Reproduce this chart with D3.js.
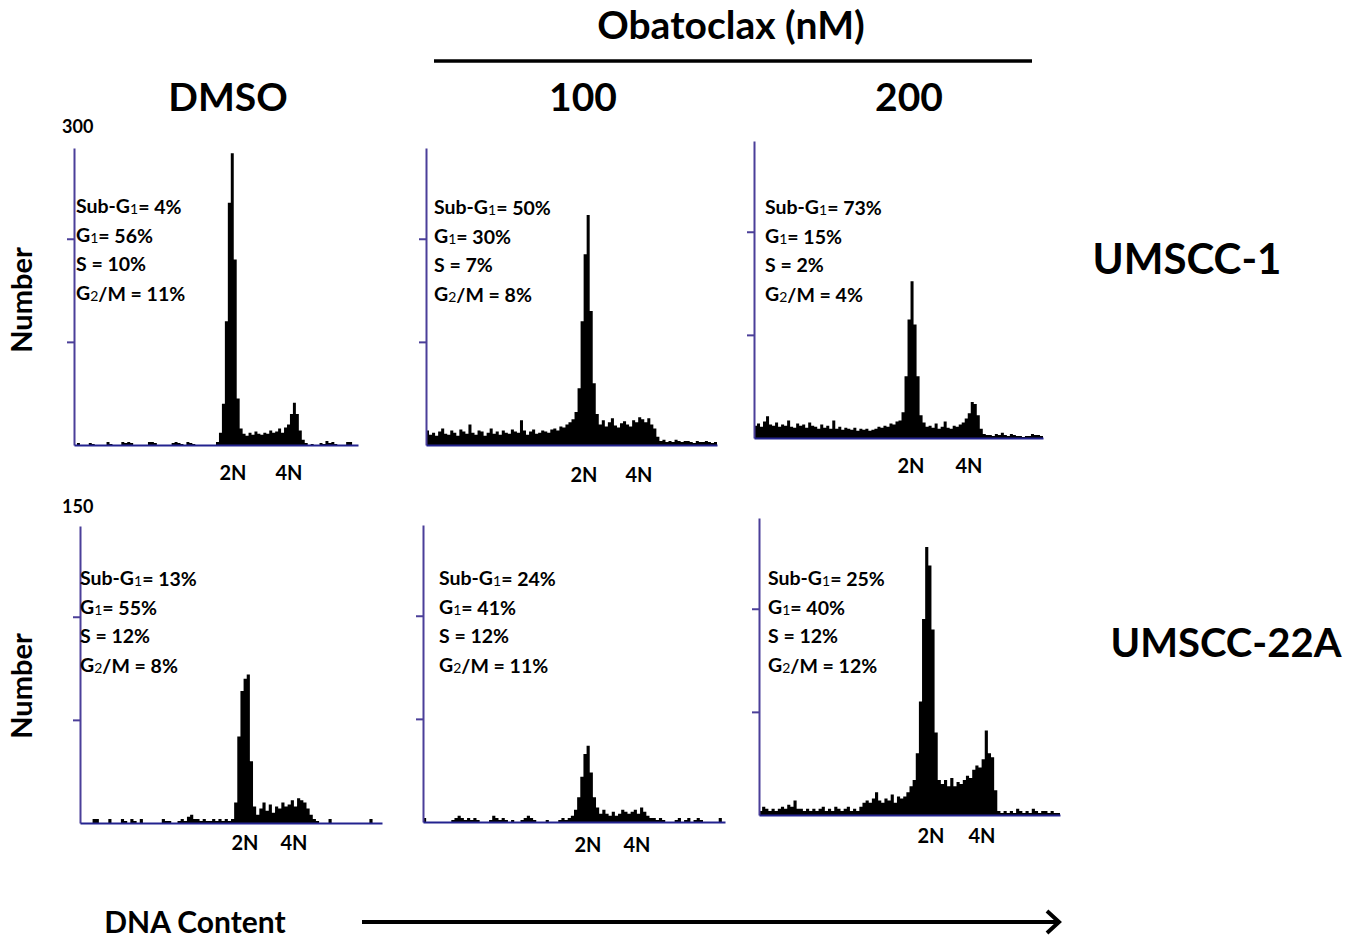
<!DOCTYPE html>
<html>
<head>
<meta charset="utf-8">
<script src="https://cdn.jsdelivr.net/npm/d3@7"></script>
<style>
  body { margin: 0; background: #fff; }
  text { font-family: Lato, "Open Sans", sans-serif; font-weight: bold; fill: #000; }
</style>
</head>
<body>
<script>
// ---- data ----
var conditions = ["DMSO", "100", "200"];
var cellLines = ["UMSCC-1", "UMSCC-22A"];
var rowMaxLabels = ["300", "150"];
var rowTicks = [[100, 200], [50, 100]];
var rowMax = [288, 144];

// DNA histograms, 96 channels each (counts per channel)
var umscc1Dmso = [0,2,0,0,0,2,1,0,0,0, 0,3,1,0,0,0,3,2,3,2, 0,0,0,0,0,3,3,2,0,0,
  0,0,0,2,3,2,1,0,3,2, 1,0,0,0,0,0,0,0,3,12, 40,120,235,283,180,45,16,11,9,12,
  10,13,11,10,12,11,14,12,13,16, 12,17,20,30,41,30,14,5,2,0, 1,0,0,2,1,4,2,3,1,0, 0,0,3,3,0,0];
var umscc1Oba100 = [14,10,12,9,13,16,11,10,14,12, 9,15,13,11,20,12,10,14,13,9, 12,16,11,13,10,14,12,11,15,13,
  12,24,14,10,13,15,11,12,14,13, 12,15,16,14,18,17,20,22,25,32, 55,120,185,223,130,60,30,20,24,18,
  22,26,19,17,21,23,20,18,24,22, 27,25,22,26,20,16,8,4,5,3, 4,3,5,4,3,4,4,3,2,4, 3,3,4,3,2,3];
var umscc1Oba200 = [12,14,11,16,21,13,12,15,11,13, 12,17,11,10,14,12,13,10,15,12, 11,9,13,10,12,9,17,9,11,8,
  10,9,8,10,7,9,8,9,7,8, 9,11,10,12,11,14,13,16,17,25, 60,115,152,110,60,22,15,11,12,10,
  14,9,11,16,10,9,12,11,13,15, 19,24,35,33,22,9,4,3,3,2, 4,3,5,3,2,4,3,2,2,1, 2,2,4,3,3,2];
var umscc22Dmso = [0,0,0,0,2,2,0,0,0,2, 0,0,0,2,1,0,2,1,0,2, 0,0,0,0,0,0,2,1,1,0,
  0,1,2,1,3,4,2,2,1,2, 1,1,2,1,2,1,2,1,2,10, 42,64,70,72,30,8,4,7,10,6,
  9,5,8,7,10,8,9,11,8,12, 11,10,7,4,2,1,0,0,0,2, 0,0,0,0,0,0,0,0,0,0, 0,0,2,0,0,0];
var umscc22Oba100 = [2,0,0,0,0,0,0,0,0,1, 2,3,2,1,2,1,2,1,0,0, 0,1,3,2,1,2,1,0,1,0,
  0,1,2,3,2,1,0,0,0,1, 0,0,0,1,2,1,2,3,6,12, 22,33,37,24,12,7,4,6,4,3,
  5,3,4,6,5,4,5,6,4,7, 5,3,2,2,1,2,1,0,0,0, 1,2,0,1,2,0,1,2,1,0, 0,0,0,0,2,0];
var umscc22Oba200 = [2,4,3,2,3,2,3,4,3,5, 4,7,3,3,2,3,2,3,2,3, 4,2,3,2,4,3,2,3,4,2,
  3,2,4,6,7,6,8,11,7,6, 8,7,10,6,9,8,9,11,14,17, 30,55,95,130,121,90,40,17,15,17,
  14,18,14,16,15,17,19,18,22,24, 23,27,41,30,28,12,2,1,2,1, 2,1,3,2,1,2,1,3,2,1, 2,2,1,2,1,1];

var histograms = [umscc1Dmso, umscc1Oba100, umscc1Oba200, umscc22Dmso, umscc22Oba100, umscc22Oba200];

// cell cycle percentages per panel
var subG1 = [4, 50, 73, 13, 24, 25];
var g1 = [56, 30, 15, 55, 41, 40];
var sPhase = [10, 7, 2, 12, 12, 12];
var g2m = [11, 8, 4, 8, 11, 12];

// ---- layout ----
var W = 1355, H = 942;
var axisH = 297;
var panels = [
  {ax: 74,  right: 358,  base: 445, tx: 76,  ty: 213, n2: 233, n4: 289, ny: 480},
  {ax: 426, right: 717,  base: 445, tx: 434, ty: 214, n2: 584, n4: 639, ny: 482},
  {ax: 754, right: 1043, base: 438, tx: 765, ty: 214, n2: 911, n4: 969, ny: 473},
  {ax: 80,  right: 382,  base: 823, tx: 80,  ty: 585, n2: 245, n4: 294, ny: 850},
  {ax: 423, right: 725,  base: 822, tx: 439, ty: 585, n2: 588, n4: 637, ny: 852},
  {ax: 759, right: 1060, base: 815, tx: 768, ty: 585, n2: 931, n4: 982, ny: 843}
];

var svg = d3.select("body").append("svg")
  .attr("width", W).attr("height", H);

svg.append("rect").attr("width", W).attr("height", H).attr("fill", "#fff");

panels.forEach(function(p, i){
  var row = i < 3 ? 0 : 1;
  var counts = histograms[i];
  var x = d3.scaleLinear().domain([0, counts.length]).range([p.ax, p.right]);
  var y = d3.scaleLinear().domain([0, rowMax[row]]).range([p.base, p.base - axisH]);

  var pts = counts.map(function(c, j){ return [j, c]; });
  pts.push([counts.length, counts[counts.length - 1]]);

  var area = d3.area()
    .x(function(d){ return x(d[0]); })
    .y0(p.base)
    .y1(function(d){ return y(d[1]); })
    .curve(d3.curveStepAfter);

  svg.append("path").datum(pts)
    .attr("d", area)
    .attr("fill", "#000");

  // axes
  var ya = svg.append("g")
    .attr("transform", "translate(" + p.ax + ",0)")
    .call(d3.axisLeft(y).tickValues(rowTicks[row]).tickSize(7).tickSizeOuter(0).tickFormat(""));
  ya.selectAll("path, line").attr("stroke", "#4b3f99").attr("stroke-width", 2);

  var xa = svg.append("g")
    .attr("transform", "translate(0," + p.base + ")")
    .call(d3.axisBottom(x).tickValues([]).tickSizeOuter(0));
  xa.select("path").attr("stroke", "#23238f").attr("stroke-width", 2);

  // cell cycle stats
  var lines = [
    [["Sub-G", 0], ["1", 1], ["= " + subG1[i] + "%", 0]],
    [["G", 0], ["1", 1], ["= " + g1[i] + "%", 0]],
    [["S = " + sPhase[i] + "%", 0]],
    [["G", 0], ["2", 1], ["/M = " + g2m[i] + "%", 0]]
  ];
  lines.forEach(function(parts, k){
    var t = svg.append("text")
      .attr("x", p.tx).attr("y", p.ty + k * 29)
      .attr("font-size", 19.5);
    parts.forEach(function(pt){
      t.append("tspan")
        .attr("font-size", pt[1] ? 14 : 19.5)
        .attr("font-weight", pt[1] ? "normal" : "bold")
        .attr("dy", pt[1] ? 1 : 0)
        .text(pt[0]);
      if (pt[1]) t.append("tspan").attr("dy", -1).text("");
    });
  });

  // ploidy labels
  svg.append("text").attr("x", p.n2).attr("y", p.ny)
    .attr("text-anchor", "middle").attr("font-size", 20).text("2N");
  svg.append("text").attr("x", p.n4).attr("y", p.ny)
    .attr("text-anchor", "middle").attr("font-size", 20).text("4N");
});

// row max labels
svg.append("text").attr("x", 62).attr("y", 133).attr("font-size", 18).text(rowMaxLabels[0]);
svg.append("text").attr("x", 62).attr("y", 513).attr("font-size", 18).text(rowMaxLabels[1]);

// column headers
var colX = [228, 583, 909];
conditions.forEach(function(c, i){
  svg.append("text").attr("x", colX[i]).attr("y", 111)
    .attr("text-anchor", "middle").attr("font-size", 39).text(c);
});
svg.append("text").attr("x", 731).attr("y", 39)
  .attr("text-anchor", "middle").attr("font-size", 39).text("Obatoclax (nM)");
svg.append("line").attr("x1", 434).attr("x2", 1032).attr("y1", 61).attr("y2", 61)
  .attr("stroke", "#000").attr("stroke-width", 3.5);

// row labels
var rowY = [260, 643];
var rowSize = [42, 40];
cellLines.forEach(function(c, i){
  svg.append("text").attr("x", i === 0 ? 1187 : 1226).attr("y", rowY[i] + 14)
    .attr("text-anchor", "middle").attr("font-size", rowSize[i]).text(c);
});

// y title
[300, 686].forEach(function(cy){
  svg.append("text")
    .attr("transform", "translate(32," + cy + ") rotate(-90)")
    .attr("text-anchor", "middle").attr("font-size", 29).text("Number");
});

// x title + arrow
svg.append("text").attr("x", 195).attr("y", 933)
  .attr("text-anchor", "middle").attr("font-size", 30).text("DNA Content");
svg.append("line").attr("x1", 362).attr("x2", 1058).attr("y1", 922).attr("y2", 922)
  .attr("stroke", "#000").attr("stroke-width", 4);
svg.append("path").attr("d", "M1047,911 L1059,922 L1047,933")
  .attr("fill", "none").attr("stroke", "#000").attr("stroke-width", 4);
</script>
</body>
</html>
